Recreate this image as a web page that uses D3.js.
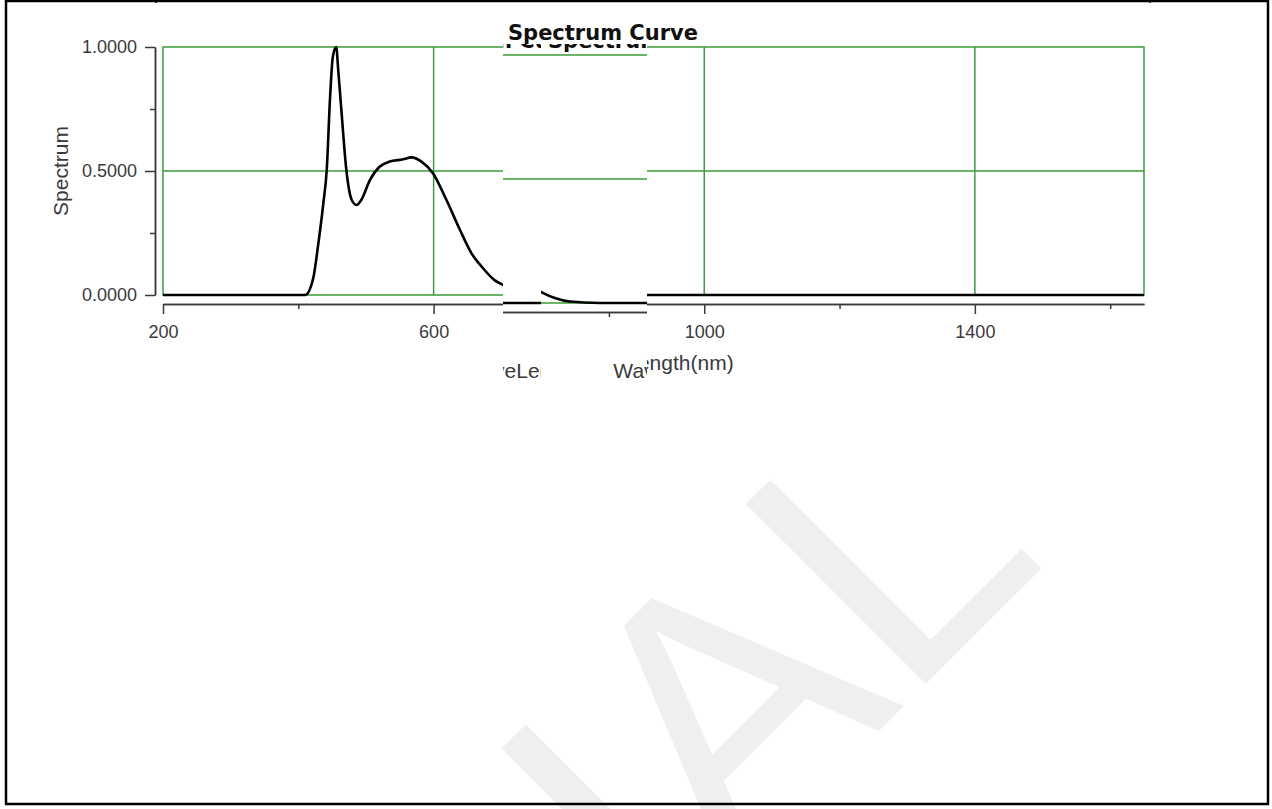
<!DOCTYPE html>
<html>
<head>
<meta charset="utf-8">
<script src="https://cdn.jsdelivr.net/npm/d3@7"></script>
<style>
  body { margin: 0; background: #fff; }
  svg { display: block; }
</style>
</head>
<body>
<div id="chartContainer"></div>
<script>
// data
var wavelengths = [200, 300, 410, 422, 429, 437, 442, 447, 451, 456, 459, 464, 471, 479, 486, 493, 506, 520, 535, 555, 567, 582, 599, 619, 639, 656, 673, 690, 703, 720, 742, 786, 900, 1200, 1650];
var spectrum    = [0, 0, 0, 0.067, 0.195, 0.37, 0.504, 0.80, 0.96, 1.0, 0.907, 0.733, 0.504, 0.383, 0.363, 0.383, 0.464, 0.517, 0.538, 0.547, 0.555, 0.538, 0.491, 0.383, 0.262, 0.168, 0.108, 0.060, 0.040, 0.02, 0.006, 0, 0, 0, 0];

var xTicks = [200, 600, 1000, 1400];
var xMinorTicks = [400, 800, 1200, 1600];
var yTicks = [0, 0.5, 1];
var yMinorTicks = [0.25, 0.75];
var xGrid = [600, 1000, 1400];
var yGrid = [0.5];

var titleText = "Spectrum Curve";
var xLabelText = "WaveLength(nm)";
var yLabelText = "Spectrum";
var watermarkText = "TRIAL";

const width = 1272;
const height = 809;
var green = "#3a9d3a";
var axisColor = "#3a3a3a";
var tickFont = "'Liberation Sans', Arial, sans-serif";

// scales
const x = d3.scaleLinear()
    .domain([200, 1650])
    .range([163, 1144]);

const y = d3.scaleLinear()
    .domain([0, 1])
    .range([295, 47]);

const svg = d3.select("#chartContainer").append("svg")
    .attr("width", width)
    .attr("height", height);

// watermark behind everything
svg.append("text")
    .attr("transform", "translate(1050,560) rotate(-45)")
    .attr("text-anchor", "end")
    .attr("font-family", tickFont)
    .attr("font-size", 370)
    .attr("fill", "#efefef")
    .text(watermarkText);

// draws the whole chart into a group (used again for the glitched strips)
function drawChart(g) {
    // green frame
    g.append("rect")
        .attr("x", x(200))
        .attr("y", y(1))
        .attr("width", x(1650) - x(200))
        .attr("height", y(0) - y(1))
        .attr("fill", "none")
        .attr("stroke", green)
        .attr("stroke-width", 1.5);

    g.selectAll(null).data(xGrid).enter().append("line")
        .attr("x1", function(d) { return x(d); })
        .attr("x2", function(d) { return x(d); })
        .attr("y1", y(1))
        .attr("y2", y(0))
        .attr("stroke", green)
        .attr("stroke-width", 1.5);

    g.selectAll(null).data(yGrid).enter().append("line")
        .attr("x1", x(200))
        .attr("x2", x(1650))
        .attr("y1", function(d) { return y(d); })
        .attr("y2", function(d) { return y(d); })
        .attr("stroke", green)
        .attr("stroke-width", 1.5);

    // spectrum line
    var line = d3.line()
        .x(function(d) { return x(d[0]); })
        .y(function(d) { return y(d[1]); })
        .curve(d3.curveMonotoneX);

    g.append("path")
        .datum(d3.zip(wavelengths, spectrum))
        .attr("d", line)
        .attr("fill", "none")
        .attr("stroke", "#000")
        .attr("stroke-width", 2.6)
        .attr("stroke-linejoin", "round");

    // y axis
    var yAxis = g.append("g")
        .attr("transform", "translate(155,0)")
        .call(d3.axisLeft(y).tickValues(yTicks).tickFormat(d3.format(".4f"))
            .tickSize(10).tickSizeOuter(0).tickPadding(8));
    var yMinor = g.append("g")
        .attr("transform", "translate(155,0)")
        .call(d3.axisLeft(y).tickValues(yMinorTicks).tickFormat("")
            .tickSize(5).tickSizeOuter(0));

    // x axis
    var xAxis = g.append("g")
        .attr("transform", "translate(0,304)")
        .call(d3.axisBottom(x).tickValues(xTicks).tickFormat(d3.format("d"))
            .tickSize(10).tickSizeOuter(0).tickPadding(11));
    var xMinor = g.append("g")
        .attr("transform", "translate(0,304)")
        .call(d3.axisBottom(x).tickValues(xMinorTicks).tickFormat("")
            .tickSize(5).tickSizeOuter(0));

    [yAxis, yMinor, xAxis, xMinor].forEach(function(a) {
        a.selectAll("path, line").attr("stroke", axisColor).attr("stroke-width", 1.5);
        a.selectAll("text")
            .attr("font-family", tickFont)
            .attr("font-size", 18)
            .attr("fill", axisColor);
    });

    // titles
    g.append("text")
        .attr("x", 603)
        .attr("y", 40)
        .attr("text-anchor", "middle")
        .attr("font-family", "'DejaVu Sans', Verdana, sans-serif")
        .attr("font-weight", "bold")
        .attr("font-size", 21)
        .attr("fill", "#111")
        .text(titleText);

    g.append("text")
        .attr("x", (x(200) + x(1650)) / 2)
        .attr("y", 370)
        .attr("text-anchor", "middle")
        .attr("font-family", tickFont)
        .attr("font-size", 21)
        .attr("fill", axisColor)
        .text(xLabelText);

    g.append("text")
        .attr("transform", "translate(68," + ((y(0) + y(1)) / 2) + ") rotate(-90)")
        .attr("text-anchor", "middle")
        .attr("font-family", tickFont)
        .attr("font-size", 21)
        .attr("fill", axisColor)
        .text(yLabelText);
}

drawChart(svg.append("g"));

// the two shifted strips seen in the middle of the chart
var strips = [
    { id: "stripA", x0: 503, x1: 541, dx: -110, dy: 8 },
    { id: "stripB", x0: 541, x1: 647, dx: 40, dy: 8 }
];
var defs = svg.append("defs");
strips.forEach(function(s) {
    defs.append("clipPath").attr("id", s.id)
        .append("rect")
        .attr("x", s.x0).attr("y", 44)
        .attr("width", s.x1 - s.x0).attr("height", 356);
    var outer = svg.append("g").attr("clip-path", "url(#" + s.id + ")");
    outer.append("rect")
        .attr("x", s.x0).attr("y", 44)
        .attr("width", s.x1 - s.x0).attr("height", 356)
        .attr("fill", "#fff");
    drawChart(outer.append("g").attr("transform", "translate(" + s.dx + "," + s.dy + ")"));
});

// page frame
var frame = svg.append("g").attr("stroke", "#000").attr("fill", "none");
frame.append("line").attr("x1", 5).attr("x2", 1269).attr("y1", 1).attr("y2", 1).attr("stroke-width", 2.5);
frame.append("line").attr("x1", 6).attr("x2", 6).attr("y1", 0).attr("y2", 805).attr("stroke-width", 2.5);
frame.append("line").attr("x1", 1268).attr("x2", 1268).attr("y1", 0).attr("y2", 805).attr("stroke-width", 2.5);
frame.append("line").attr("x1", 5).attr("x2", 1269).attr("y1", 804).attr("y2", 804).attr("stroke-width", 2.5);
frame.append("line").attr("x1", 156).attr("x2", 156).attr("y1", 0).attr("y2", 3).attr("stroke-width", 1.5);
frame.append("line").attr("x1", 1150).attr("x2", 1150).attr("y1", 0).attr("y2", 3).attr("stroke-width", 1.5);
</script>
</body>
</html>
